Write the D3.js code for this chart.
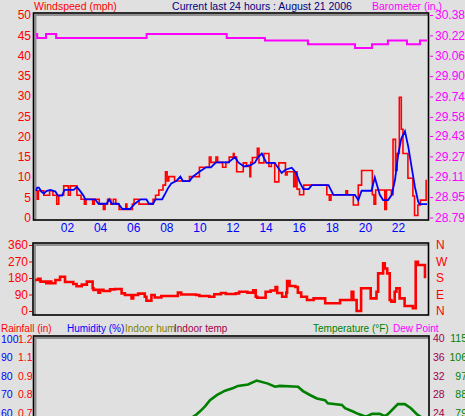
<!DOCTYPE html>
<meta charset="utf-8">
<style>
body { margin: 0; background: #e0e0e0; }
text { font-family: "Liberation Sans", Arial, sans-serif; }
.hdr { font-size: 10.5px; }
.hdr2 { font-size: 10px; }
.ax text { font-size: 12px; font-family: "Liberation Sans", Arial, sans-serif; }
.ax.small text { font-size: 10.5px; }
</style>
<script src="https://d3js.org/d3.v7.min.js"></script>
<body>
<script>

// wind speed (mph), step line: [hour, value]
var windSpeed = [[0.13,6.6],[0.2,4.5],[0.27,6.6],[0.6,5.5],[0.95,6.6],[1.15,5.5],[1.38,3.3],[1.5,5.5],[1.8,7.8],[2.08,5.5],[2.2,7.8],[2.6,5.5],[2.85,4.5],[3.05,3.3],[3.15,4.5],[3.55,3.3],[3.65,4.5],[3.95,3.3],[4.2,2.0],[4.3,3.3],[4.45,4.5],[4.65,3.3],[4.8,4.5],[4.95,3.3],[5.15,2.0],[5.55,3.3],[5.62,2.0],[5.95,3.3],[6.05,4.5],[6.35,3.3],[7.2,4.5],[7.35,5.5],[7.55,6.8],[7.8,8.0],[7.95,11.3],[8.05,9.0],[8.15,10.1],[8.5,9.0],[9.4,10.1],[10.0,12.4],[10.6,14.9],[10.7,13.6],[11.0,14.9],[11.1,13.6],[11.4,12.4],[11.6,13.6],[11.8,14.9],[12.05,15.8],[12.1,14.9],[12.25,11.3],[12.65,13.5],[12.85,12.6],[13.05,10.1],[13.1,13.6],[13.2,14.8],[13.5,17.1],[13.6,13.5],[13.9,15.8],[14.2,12.6],[14.35,13.5],[14.55,8.8],[14.8,13.5],[15.2,10.5],[15.3,11.3],[15.7,7.6],[15.8,11.3],[15.9,7.0],[16.05,5.6],[16.3,8.0],[17.7,5.6],[17.85,4.3],[17.95,5.6],[18.85,6.6],[18.95,5.6],[19.3,3.1],[19.6,8.0],[19.8,11.6],[20.45,5.6],[20.55,3.3],[20.65,6.8],[21.2,2.0],[21.3,6.8],[21.6,5.6],[21.7,19.3],[21.85,11.6],[21.95,15.8],[22.08,29.7],[22.2,21.8],[22.3,15.8],[22.6,9.7],[22.9,5.3],[23.0,0.5],[23.2,3.1],[23.35,4.3],[23.7,9.3]];

// average wind speed
var windAvg = [[0.13,6.6],[0.2,7.4],[0.3,7.4],[0.45,6.4],[0.6,5.9],[0.75,6.5],[1.0,6.8],[1.3,6.4],[1.45,5.4],[1.7,5.4],[1.85,6.8],[2.4,6.8],[2.6,7.5],[2.8,6.5],[3.0,5.4],[3.1,4.5],[3.7,4.5],[3.9,3.4],[4.4,3.4],[4.55,4.5],[4.7,3.4],[5.1,3.4],[5.35,2.1],[5.8,2.1],[6.1,3.4],[6.45,4.5],[6.8,4.5],[6.95,3.4],[7.2,3.4],[7.35,4.5],[7.75,4.5],[7.95,6.0],[8.1,7.2],[8.3,8.4],[8.6,9.0],[8.85,10.1],[9.0,9.0],[9.4,9.0],[9.6,10.1],[10.0,11.3],[10.4,12.4],[10.7,12.4],[11.0,13.6],[11.75,13.6],[12.15,14.9],[12.35,13.6],[12.7,12.6],[13.1,12.9],[13.36,13.6],[13.55,14.9],[13.77,15.8],[14.05,13.5],[14.55,13.5],[14.97,11.0],[15.2,11.8],[15.58,12.3],[15.85,11.0],[16.05,8.8],[16.28,7.0],[16.6,7.0],[16.79,8.0],[17.8,8.0],[18.1,5.6],[19.4,5.6],[19.6,4.3],[19.8,6.6],[20.4,6.6],[20.6,9.9],[20.9,5.6],[21.1,4.3],[21.4,4.3],[21.62,5.6],[21.82,9.3],[22.02,15.8],[22.2,19.5],[22.42,21.3],[22.62,17.5],[22.82,12.5],[23.02,7.6],[23.22,3.9],[23.3,3.3],[23.75,3.3]];

// barometer (in.)
var baro = [[0.13,30.23],[0.2,30.20],[0.73,30.23],[1.34,30.20],[6.81,30.23],[11.65,30.20],[13.96,30.18],[16.56,30.15],[19.4,30.12],[20.43,30.15],[21.39,30.18],[22.54,30.15],[23.33,30.18],[23.75,30.18]];

// wind direction (deg)
var windDir = [[0.07,169],[0.25,175],[0.4,160],[0.75,151],[0.9,160],[1.05,151],[1.3,169],[1.58,187],[1.88,158],[2.38,147],[2.58,135],[2.89,144],[3.2,160],[3.55,124],[3.6,115],[3.9,100],[4.0,115],[4.2,109],[4.6,118],[4.9,120],[5.3,96],[5.5,87],[5.9,69],[6.0,87],[6.3,95],[6.7,78],[6.8,56],[7.1,87],[7.3,74],[7.7,82],[8.7,100],[8.9,90],[9.8,87],[10.0,82],[10.6,78],[10.9,91],[11.3,98],[11.6,93],[12.2,96],[12.4,105],[12.9,100],[13.25,113],[13.4,78],[13.5,72],[14.0,105],[14.3,112],[14.6,131],[14.7,98],[15.0,78],[15.25,100],[15.3,164],[15.45,136],[15.8,131],[15.95,100],[16.15,78],[16.5,60],[16.9,69],[17.6,42],[18.5,60],[19.2,105],[19.3,60],[19.5,0],[19.77,124],[20.35,69],[20.7,105],[20.8,205],[21.1,260],[21.2,232],[21.35,205],[21.5,60],[21.6,51],[21.8,105],[21.9,124],[22.1,69],[22.4,27],[22.9,15],[23.07,269],[23.2,251],[23.63,178]];

// outdoor temperature (F)
var temperature = [[9.5,76.5],[9.84,78.4],[10.04,79.8],[10.34,82.2],[10.64,85.2],[11.05,87.6],[11.55,89.8],[12.05,91.1],[12.33,92.1],[12.94,92.8],[13.46,94.7],[14.14,93.2],[14.57,91.7],[14.86,92.1],[15.96,91.7],[16.26,89.6],[16.68,87.7],[17.1,86.0],[17.59,85.2],[17.76,83.7],[18.61,82.9],[18.8,81.3],[19.28,79.7],[19.58,78.6],[20.07,77.2],[20.43,78.6],[20.9,78.6],[21.2,77.5],[21.39,78.4],[21.99,83.3],[22.41,83.3],[22.78,81.3],[23.14,78.4],[23.5,76.5]];

var hourTicks = [2,4,6,8,10,12,14,16,18,20,22];
var windTicks = [0,5,10,15,20,25,30,35,40,45,50];
var baroTicks = [28.79,28.95,29.11,29.27,29.43,29.58,29.74,29.90,30.06,30.22,30.38];
var dirTicks = [0,90,180,270,360];
var compass = ["N","E","S","W","N"];
var humTicks = [100,90,80,70,60];
var rainLabels = ["1.2","1.1","0.9","0.8","0.7"];
var indoorLabels = ["40","36","32","28","24"];
var tempTicks = [115,106,97,88,79];

var width = 465, height = 416;
var svg = d3.select("body").append("svg")
    .attr("width", width).attr("height", height);

var x = d3.scaleLinear().domain([0, 24]).range([33.9, 431.1]);
var yWind = d3.scaleLinear().domain([0, 50]).range([217.5, 15]);
var yBaro = d3.scaleLinear().domain([28.79, 30.38]).range([217.5, 15]);
var yDir = d3.scaleLinear().domain([0, 360]).range([311, 245]);
var yHum = d3.scaleLinear().domain([60, 100]).range([413, 339]);
var yTemp = d3.scaleLinear().domain([79, 115]).range([413, 338.5]);

function frame(x0, y0, x1, y1, id) {
  svg.append("rect").attr("x", x0).attr("y", y0)
    .attr("width", x1 - x0).attr("height", y1 - y0).attr("fill", "#e0e0e0");
  svg.append("path").attr("d", "M" + (x0 + 2) + "," + y1 + "V" + (y0 + 2) + "H" + x1)
    .attr("stroke", "#909090").attr("stroke-width", 2).attr("fill", "none");
  svg.append("rect").attr("x", x0).attr("y", y0)
    .attr("width", x1 - x0).attr("height", y1 - y0)
    .attr("fill", "none").attr("stroke", "#000").attr("stroke-width", 1.6);
  svg.append("clipPath").attr("id", id).append("rect")
    .attr("x", x0 + 1).attr("y", y0 + 1).attr("width", x1 - x0 - 2).attr("height", y1 - y0 - 2);
}

function styleAxis(g, color, cls) {
  g.attr("class", "ax " + (cls || "")).attr("font-size", null).attr("font-family", null);
  g.select(".domain").remove();
  g.selectAll("text").attr("fill", color);
  g.selectAll("line").attr("stroke", color);
}

function hdr(tx, ty, s, color, anchor, cls) {
  svg.append("text").attr("class", cls || "hdr").attr("x", tx).attr("y", ty)
    .attr("fill", color).attr("text-anchor", anchor || "start").text(s);
}

// ---- top chart: wind speed + barometer
frame(33.5, 13, 428.5, 220, "clipTop");

hdr(34, 10, "Windspeed (mph)", "#ff0000");
hdr(262, 10, "Current last 24 hours : August 21 2006", "#000080", "middle");
hdr(372, 10, "Barometer (in.)", "#ff00ff");

svg.append("g").attr("transform", "translate(34,0)")
  .call(d3.axisLeft(yWind).tickValues(windTicks).tickSize(0).tickPadding(3))
  .call(styleAxis, "#ff0000");

svg.append("g").attr("transform", "translate(430,0)")
  .call(d3.axisRight(yBaro).tickValues(baroTicks).tickSize(3).tickPadding(2).tickFormat(d3.format(".2f")))
  .call(styleAxis, "#ff00ff");

svg.append("g").attr("transform", "translate(0,223)")
  .call(d3.axisBottom(x).tickValues(hourTicks).tickSize(0).tickPadding(0).tickFormat(d3.format("02d")))
  .call(styleAxis, "#0000ff");

var stepLine = function(ys) {
  return d3.line().x(function(d) { return x(d[0]); }).y(function(d) { return ys(d[1]); })
    .curve(d3.curveStepAfter);
};

var gTop = svg.append("g").attr("clip-path", "url(#clipTop)");
gTop.append("path").datum(baro).attr("d", stepLine(yBaro))
  .attr("fill", "none").attr("stroke", "#ff00ff").attr("stroke-width", 2);
gTop.append("path").datum(windSpeed).attr("d", stepLine(yWind))
  .attr("fill", "none").attr("stroke", "#ff0000").attr("stroke-width", 1.6);
gTop.append("path").datum(windAvg)
  .attr("d", d3.line().x(function(d) { return x(d[0]); }).y(function(d) { return yWind(d[1]); }))
  .attr("fill", "none").attr("stroke", "#0000ff").attr("stroke-width", 1.8);

// ---- wind direction
frame(33, 243, 428.5, 315, "clipDir");

svg.append("g").attr("transform", "translate(32,0)")
  .call(d3.axisLeft(yDir).tickValues(dirTicks).tickSize(3).tickPadding(1))
  .call(styleAxis, "#ff0000");

svg.append("g").attr("transform", "translate(429,0)")
  .call(d3.axisRight(yDir).tickValues(dirTicks).tickSize(0).tickPadding(7)
    .tickFormat(function(d, i) { return compass[i]; }))
  .call(styleAxis, "#ff0000");

svg.append("g").attr("clip-path", "url(#clipDir)")
  .append("path").datum(windDir).attr("d", stepLine(yDir))
  .attr("fill", "none").attr("stroke", "#ff0000").attr("stroke-width", 2.6);

// ---- temperature / humidity
frame(33.5, 336, 429, 440, "clipTemp");

hdr(1, 331.5, "Rainfall (in)", "#ff0000", "start", "hdr2");
hdr(67, 331.5, "Humidity (%)", "#0000ff", "start", "hdr2");
hdr(125, 331.5, "Indoor hum", "#808000", "start", "hdr2");
hdr(174, 331.5, "Indoor temp", "#a0004a", "start", "hdr2");
hdr(313, 331.5, "Temperature (\u00b0F)", "#008000", "start", "hdr2");
hdr(393, 331.5, "Dew Point", "#ff00ff", "start", "hdr2");

svg.append("g").attr("transform", "translate(0,0)")
  .call(d3.axisRight(yHum).tickValues(humTicks).tickSize(0).tickPadding(1))
  .call(styleAxis, "#0000ff", "small");

svg.append("g").attr("transform", "translate(33,0)")
  .call(d3.axisLeft(yHum).tickValues(humTicks).tickSize(0).tickPadding(0.5)
    .tickFormat(function(d, i) { return rainLabels[i]; }))
  .call(styleAxis, "#ff0000", "small");

svg.append("g").attr("transform", "translate(429,0)")
  .call(d3.axisRight(yTemp).tickValues(tempTicks).tickSize(0).tickPadding(4)
    .tickFormat(function(d, i) { return indoorLabels[i]; }))
  .call(styleAxis, "#a0004a", "small");

svg.append("g").attr("transform", "translate(467,0)")
  .call(d3.axisLeft(yTemp).tickValues(tempTicks).tickSize(0).tickPadding(0))
  .call(styleAxis, "#008000", "small");

svg.append("g").attr("clip-path", "url(#clipTemp)")
  .append("path").datum(temperature)
  .attr("d", d3.line().x(function(d) { return x(d[0]); }).y(function(d) { return yTemp(d[1]); }))
  .attr("fill", "none").attr("stroke", "#008000").attr("stroke-width", 2.6);

</script>
</body>
